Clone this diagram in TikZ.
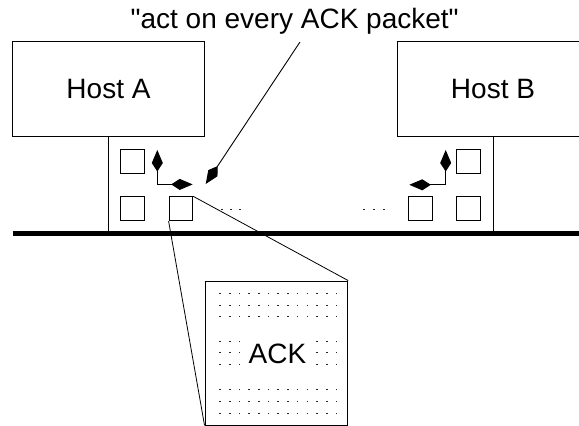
\documentclass[tikz,border=0pt]{standalone}
\usepackage{fontspec}
\setmainfont{Liberation Sans}[Ligatures=TeXOff]
\usetikzlibrary{arrows.meta}

\begin{document}
\begin{tikzpicture}[x=1pt,y=-1pt,
  every node/.style={font=\fontsize{28}{32}\selectfont, inner sep=0pt},
  hostbox/.style={draw, line width=0.9pt, minimum width=191.6pt, minimum height=95.7pt},
  slot/.style={draw, line width=0.9pt, minimum width=23.6pt, minimum height=24pt},
  zoombox/.style={draw, line width=0.9pt, minimum width=142.7pt, minimum height=144pt},
  link/.style={line width=0.8pt},
  kite/.style={line width=0.9pt, -{Kite[length=21.5pt,width=11pt,inset=8.5pt]}},
  wire/.style={line width=4.6pt},
  speck/.style={fill=black!85}
]
\useasboundingbox (0,0) rectangle (579,426);
\clip (0,0) rectangle (579,426);

% hosts
\node[hostbox] (hostA) at (108.5,88.85) {Host A};
\node[hostbox] (hostB) at (493,88.85) {Host B};

% network wire
\coordinate (netL) at (12.5,233.3);
\coordinate (netR) at (600,233.3);
\draw[wire] (netL) -- (netR);

% host drops to the wire
\coordinate (dropA) at (108.5,231);
\coordinate (dropB) at (493,231);
\draw[link] (hostA.south) -- (dropA);
\draw[link] (hostB.south) -- (dropB);

% buffer slots
\node[slot] (a1) at (132.5,161) {};
\node[slot] (a2) at (132.5,208.7) {};
\node[slot] (a3) at (180.85,208.7) {};
\node[slot] (b1) at (468.7,161.2) {};
\node[slot] (b2) at (420.7,208.7) {};
\node[slot] (b3) at (468.7,208.7) {};

% elbow arrows at each host
\coordinate (ca) at (157.3,184.4);
\coordinate (caUp) at (157.3,150);
\coordinate (caRight) at (192.7,184.4);
\draw[kite] (ca) -- (caUp);
\draw[kite] (ca) -- (caRight);

\coordinate (cb) at (445.7,184.8);
\coordinate (cbUp) at (445.7,150);
\coordinate (cbLeft) at (409.3,184.8);
\draw[kite] (cb) -- (cbUp);
\draw[kite] (cb) -- (cbLeft);

% ellipses along the wire
\foreach \x in {221.7,230.9,240.1,364,374,384}
  \fill[speck] (\x-0.8,208.5) rectangle (\x+0.8,209.5);

% callout
\node (note) at (294.7,21) {"act on every ACK packet"};
\coordinate (calloutTop) at (300,42);
\coordinate (calloutTip) at (205.7,184);
\draw[kite] (calloutTop) -- (calloutTip);

% enlarged packet
\node[zoombox] (pkt) at (276.35,353) {};
\node (ack) at (277.5,354) {ACK};
\draw[link] (a3.north east) -- (pkt.north east);
\draw[link] (a3.south west) -- (pkt.south west);

% packet payload dots
\foreach \y in {293.5,305,316.5,389,401,413}
  \foreach \i in {0,...,12}
    \fill[speck] ({220+9.71*\i-0.8},\y-0.5) rectangle ({220+9.71*\i+0.8},\y+0.5);
\foreach \y in {341,352.5,364}
  \foreach \i in {0,1,2,10,11,12}
    \fill[speck] ({220+9.71*\i-0.8},\y-0.5) rectangle ({220+9.71*\i+0.8},\y+0.5);
\end{tikzpicture}
\end{document}
